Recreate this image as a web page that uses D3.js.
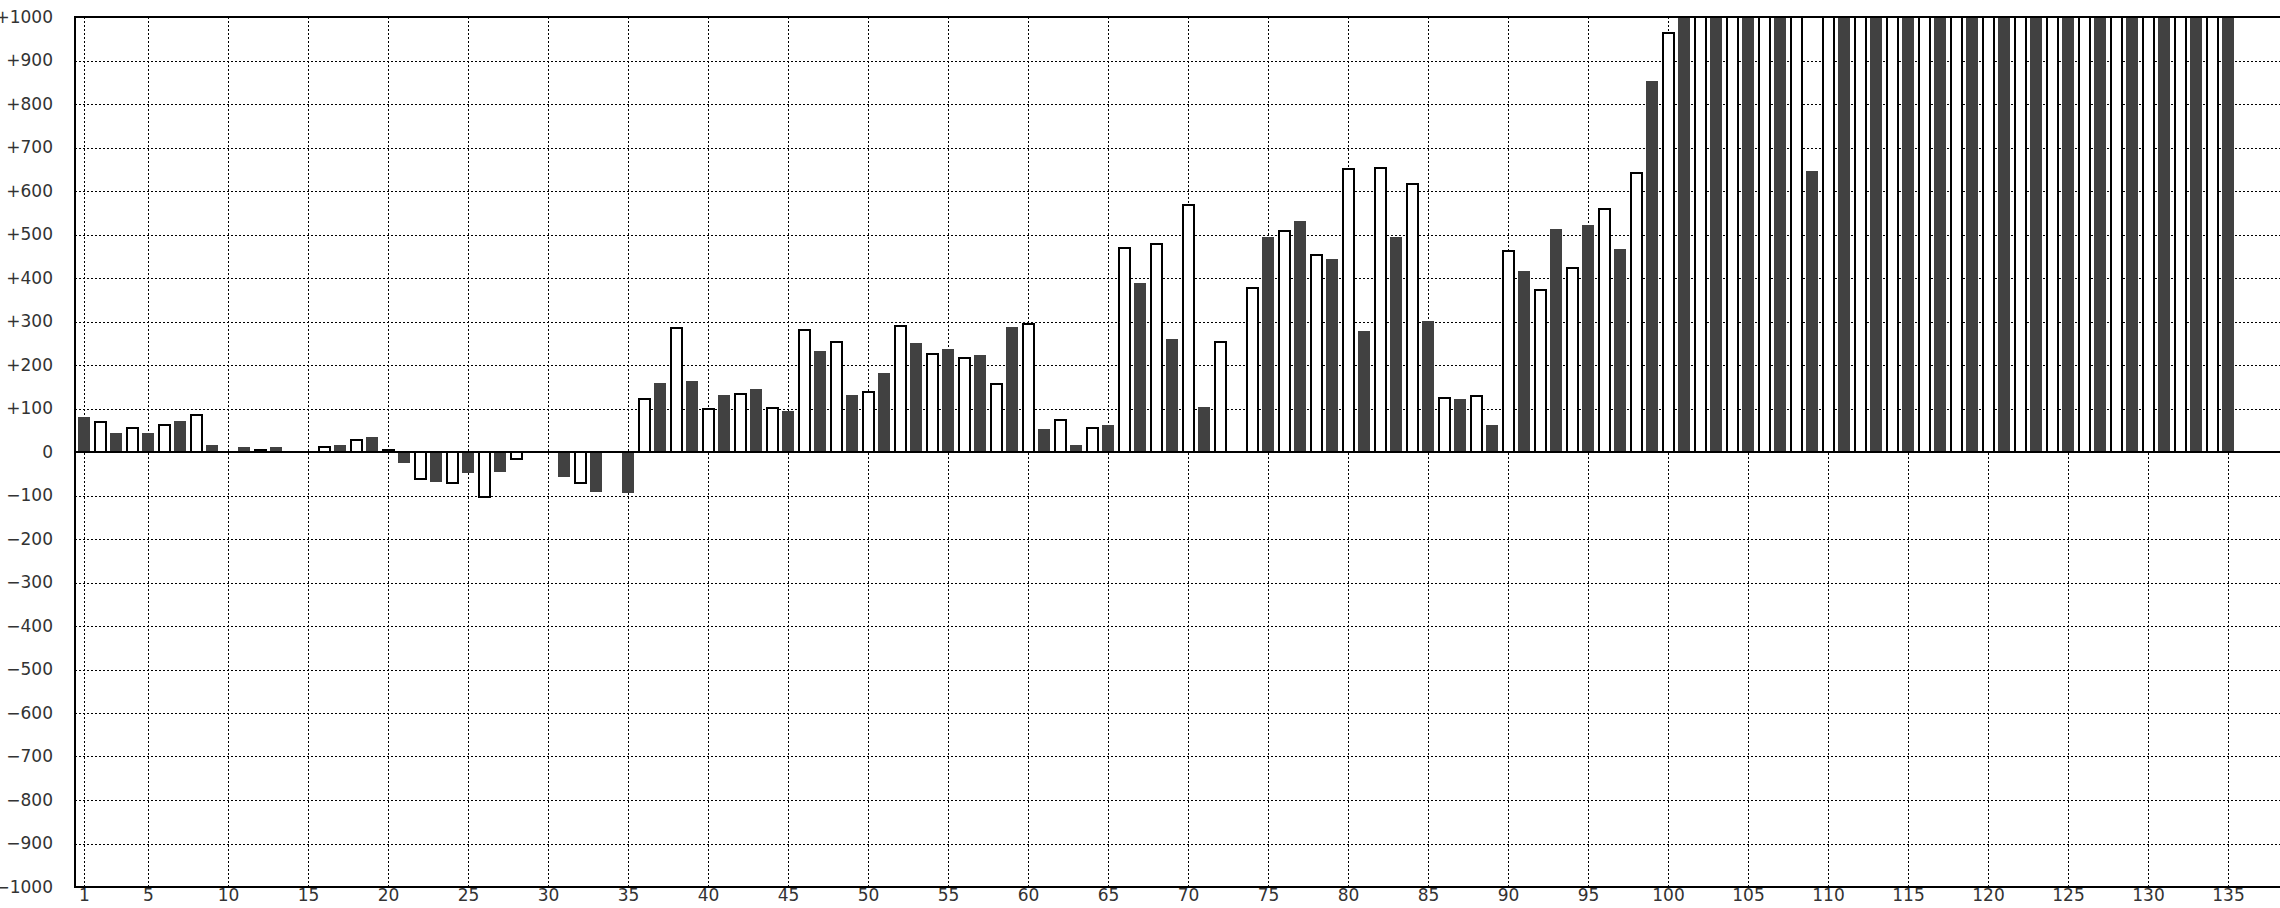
<!DOCTYPE html>
<html>
<head>
<meta charset="utf-8">
<script src="https://cdn.jsdelivr.net/npm/d3@7/dist/d3.min.js"></script>
<style>
  html, body { margin: 0; padding: 0; background: #fff; overflow: hidden; }
  svg { display: block; }
  text { font-family: "DejaVu Sans", sans-serif; font-size: 17px; fill: #333; }
</style>
</head>
<body>
<svg id="chart" width="2280" height="908"></svg>
<script>
// ---- data ----
// dark series: positions 1,3,5,...,135
const darkPositions = d3.range(1, 136, 2);
const darkValues = [
  80, 43, 43, 71, 15, 11, 11, 0, 15, 34,        // 1..19
  -26, -68, -49, -45, 0, -58, -91, -95, 158, 163, // 21..39
  131, 144, 95, 232, 131, 181, 250, 237, 223, 287, // 41..59
  52, 15, 61, 389, 260, 103, 0, 495, 531, 444,     // 61..79
  278, 495, 301, 121, 61, 416, 513, 522, 467, 854, // 81..99
  1000, 1000, 1000, 1000, 647, 1000, 1000, 1000, 1000, 1000, // 101..119
  1000, 1000, 1000, 1000, 1000, 1000, 1000, 1000   // 121..135
];
// light series: positions 2,4,6,...,134
const lightPositions = d3.range(2, 135, 2);
const lightValues = [
  69, 56, 61, 84, 0, 5, 0, 11, 28, 5,              // 2..20
  -61, -71, -103, -15, 0, -71, 0, 121, 286, 98,    // 22..40
  134, 101, 281, 253, 138, 290, 226, 217, 157, 295, // 42..60
  74, 55, 470, 479, 567, 253, 378, 507, 452, 650,  // 62..80
  654, 617, 124, 129, 461, 373, 424, 558, 641, 963, // 82..100
  1000, 1000, 1000, 1000, 1000, 1000, 1000, 1000, 1000, 1000, // 102..120
  1000, 1000, 1000, 1000, 1000, 1000, 1000         // 122..134
];
const xTicks = [1, 5, 10, 15, 20, 25, 30, 35, 40, 45, 50, 55, 60, 65, 70, 75, 80, 85, 90, 95,
                100, 105, 110, 115, 120, 125, 130, 135];
const yTicks = [-1000, -900, -800, -700, -600, -500, -400, -300, -200, -100, 0,
                100, 200, 300, 400, 500, 600, 700, 800, 900, 1000];

// ---- layout ----
const plotLeft = 75, plotRight = 2290, plotTop = 17, plotBottom = 887;
const svg = d3.select("#chart");

const x = d3.scaleLinear().domain([1, 135]).range([84, 2228]);
const y = d3.scaleLinear().domain([-1000, 1000]).range([plotBottom, plotTop]);

const fmt = v => v === 0 ? "0" : (v > 0 ? "+" + v : "\u2212" + Math.abs(v));

// grid
const grid = svg.append("g").attr("stroke", "#000").attr("stroke-width", 1)
  .attr("stroke-dasharray", "2,2").attr("shape-rendering", "crispEdges");
grid.selectAll("line.h").data(yTicks.filter(v => v !== 0 && Math.abs(v) !== 1000))
  .join("line").attr("class", "h")
  .attr("x1", plotLeft).attr("x2", plotRight)
  .attr("y1", d => Math.round(y(d)) + 0.5).attr("y2", d => Math.round(y(d)) + 0.5);
grid.selectAll("line.v").data(xTicks)
  .join("line").attr("class", "v")
  .attr("x1", d => Math.round(x(d)) + 0.5).attr("x2", d => Math.round(x(d)) + 0.5)
  .attr("y1", plotTop).attr("y2", plotBottom);

// clip
svg.append("clipPath").attr("id", "clip").append("rect")
  .attr("x", plotLeft).attr("y", plotTop).attr("width", plotRight - plotLeft).attr("height", plotBottom - plotTop);

const bars = svg.append("g").attr("clip-path", "url(#clip)").attr("shape-rendering", "crispEdges");

bars.selectAll("rect.dark").data(darkPositions.map((p, i) => ({p, v: darkValues[i]})))
  .join("rect").attr("class", "dark")
  .attr("x", d => x(d.p) - 6).attr("width", 12)
  .attr("y", d => y(Math.max(0, d.v)))
  .attr("height", d => Math.abs(y(d.v) - y(0)))
  .attr("fill", "#414141");

bars.selectAll("rect.light").data(lightPositions.map((p, i) => ({p, v: lightValues[i]})).filter(d => d.v !== 0))
  .join("rect").attr("class", "light")
  .attr("x", d => x(d.p) - 5.5).attr("width", 11)
  .attr("y", d => y(Math.max(0, d.v)))
  .attr("height", d => Math.abs(y(d.v) - y(0)))
  .attr("fill", "#fff").attr("stroke", "#000").attr("stroke-width", 2);

// frame
const frame = svg.append("g").attr("stroke", "#000").attr("stroke-width", 2).attr("shape-rendering", "crispEdges");
frame.append("line").attr("x1", plotLeft).attr("x2", plotRight).attr("y1", y(1000)).attr("y2", y(1000));
frame.append("line").attr("x1", plotLeft).attr("x2", plotRight).attr("y1", y(-1000)).attr("y2", y(-1000));
frame.append("line").attr("x1", plotLeft).attr("x2", plotRight).attr("y1", y(0)).attr("y2", y(0));
frame.append("line").attr("x1", plotLeft).attr("x2", plotLeft).attr("y1", plotTop - 1).attr("y2", plotBottom + 1);

// y labels
const yAxis = d3.axisLeft(y).tickValues(yTicks).tickFormat(fmt).tickSize(0).tickPadding(0);
const gy = svg.append("g").attr("transform", "translate(53,0)").call(yAxis);
gy.select(".domain").remove();
gy.selectAll("text").attr("fill", "#333").style("font-size", "17px").style("font-family", "DejaVu Sans");

// x labels
const xAxis = d3.axisBottom(x).tickValues(xTicks).tickFormat(d => d).tickSize(0).tickPadding(0);
const gx = svg.append("g").attr("transform", "translate(0,889)").call(xAxis);
gx.select(".domain").remove();
gx.selectAll("text").attr("fill", "#333").style("font-size", "17px").style("font-family", "DejaVu Sans");
</script>
</body>
</html>
